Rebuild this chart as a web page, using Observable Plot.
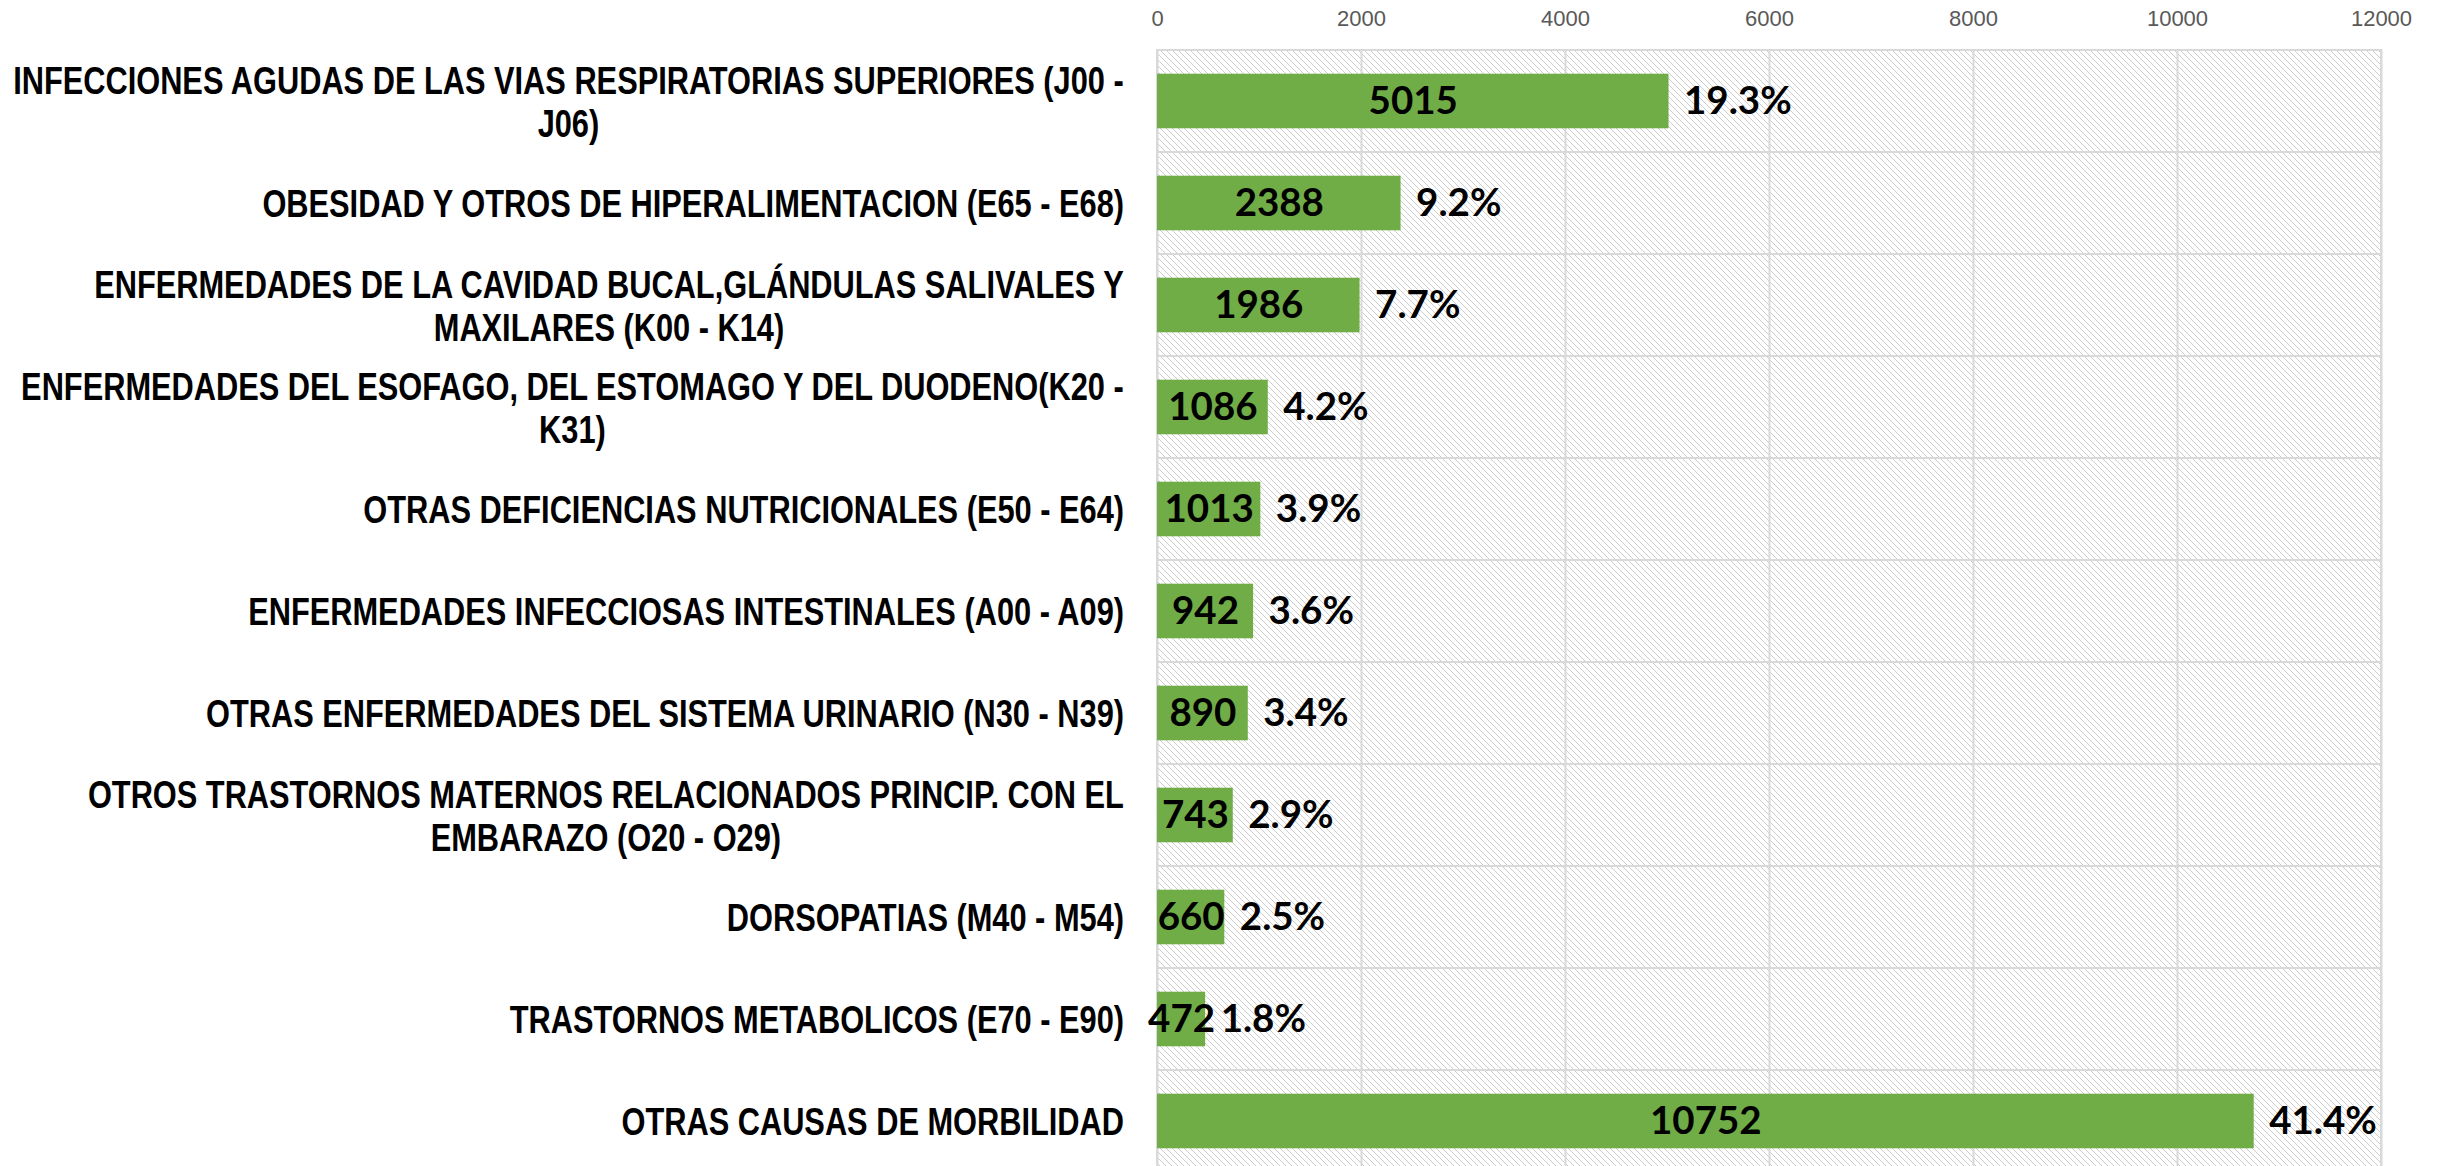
<!DOCTYPE html>
<html><head><meta charset="utf-8">
<script src="https://cdn.jsdelivr.net/npm/d3@7"></script>
<script src="https://cdn.jsdelivr.net/npm/@observablehq/plot@0.6"></script>
<style>
html,body{margin:0;background:#fff;overflow:hidden;}
</style>
</head><body><div id="chart"></div>
<script>
const categories = [
  "INFECCIONES AGUDAS DE LAS VIAS RESPIRATORIAS SUPERIORES (J00 -\nJ06)",
  "OBESIDAD Y OTROS DE HIPERALIMENTACION (E65 - E68)",
  "ENFERMEDADES DE LA CAVIDAD BUCAL,GLÁNDULAS SALIVALES Y\nMAXILARES (K00 - K14)",
  "ENFERMEDADES DEL ESOFAGO, DEL ESTOMAGO Y DEL DUODENO(K20 -\nK31)",
  "OTRAS DEFICIENCIAS NUTRICIONALES (E50 - E64)",
  "ENFERMEDADES INFECCIOSAS INTESTINALES (A00 - A09)",
  "OTRAS ENFERMEDADES DEL SISTEMA URINARIO (N30 - N39)",
  "OTROS TRASTORNOS MATERNOS RELACIONADOS PRINCIP. CON EL\nEMBARAZO (O20 - O29)",
  "DORSOPATIAS (M40 - M54)",
  "TRASTORNOS METABOLICOS (E70 - E90)",
  "OTRAS CAUSAS DE MORBILIDAD"
];
const values = [5015, 2388, 1986, 1086, 1013, 942, 890, 743, 660, 472, 10752];
const percents = [19.3, 9.2, 7.7, 4.2, 3.9, 3.6, 3.4, 2.9, 2.5, 1.8, 41.4];
const xTicks = [0, 2000, 4000, 6000, 8000, 10000, 12000];
const xMax = 12000;

const data = categories.map((c, i) => ({category: c, value: values[i], pct: percents[i]}));

const hatchDefs = () => {
  const defs = d3.create("svg:defs");
  const s = 6;
  const p = defs.append("pattern").attr("id", "hatch")
    .attr("patternUnits", "userSpaceOnUse").attr("width", s).attr("height", s);
  p.append("rect").attr("width", s).attr("height", s).attr("fill", "white");
  p.append("path").attr("d", `M0,0L${s},${s}M-1,${s-1}L1,${s+1}M${s-1},-1L${s+1},1`)
    .attr("stroke", "#cccccc").attr("stroke-width", 1).attr("shape-rendering", "crispEdges");
  return defs.node();
};

const chart = Plot.plot({
  width: 2440, height: 1172,
  marginLeft: 1157, marginRight: 59, marginTop: 49.5, marginBottom: 0.5,
  x: {domain: [0, xMax]},
  y: {domain: categories, padding: 0},
  style: {background: "white"},
  marks: [
    hatchDefs,
    Plot.barX(data, {y: "category", x1: 0, x2: xMax, fill: "url(#hatch)", stroke: "#d9d9d9", strokeWidth: 2}),
    Plot.ruleX(xTicks, {stroke: "#d9d9d9", strokeWidth: 2}),
    Plot.barX(data, {y: "category", x: "value", fill: "#70AD47", insetTop: 23.7, insetBottom: 23.7}),
    Plot.text(data, {y: "category", x: d => d.value / 2, text: d => String(d.value),
      fontFamily: "Lato", fontWeight: "bold", fontSize: 38.5, fill: "black"}),
    Plot.text(data, {y: "category", x: "value", text: d => d.pct.toFixed(1) + "%", textAnchor: "start", dx: 15,
      fontFamily: "Lato", fontWeight: "bold", fontSize: 38.5, fill: "black"}),
    Plot.axisY({tickSize: 0, tickPadding: 33.5, fontSize: 38, fontWeight: "bold", fontFamily: "Liberation Sans",
      fill: "black", lineHeight: 1.15, label: null}),
    Plot.axisX(xTicks, {anchor: "top", tickSize: 0, tickPadding: 24.5, fontSize: 22, fontFamily: "Liberation Sans",
      fill: "#595959", tickFormat: d => String(d), label: null})
  ]
});
document.getElementById("chart").append(chart);

const narrow = 0.81;
d3.select(chart).selectAll('g[aria-label="y-axis tick label"] text').each(function() {
  const tspans = this.querySelectorAll("tspan");
  if (tspans.length > 1) {
    let w = 0;
    tspans.forEach(ts => { w = Math.max(w, ts.getComputedTextLength()); });
    this.setAttribute("text-anchor", "middle");
    tspans.forEach(ts => {
      const ox = parseFloat(ts.getAttribute("x")) || 0;
      ts.setAttribute("x", ox - w / 2);
    });
  }
  const ax = parseFloat(this.getAttribute("x")) || 0;
  const tr = this.getAttribute("transform") || "";
  this.setAttribute("transform", `${tr} translate(${ax},0) scale(${narrow},1) translate(${-ax},0)`);
});
</script>
</body></html>
